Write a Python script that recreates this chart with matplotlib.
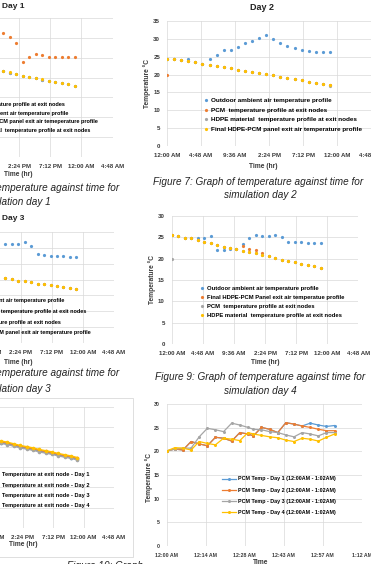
import matplotlib
matplotlib.use("Agg")
import matplotlib.pyplot as plt
from matplotlib.patches import Rectangle

# page scrap with six Excel charts, sized in pixels
W, H = 371, 564

plt.rcParams['font.family'] = ['Liberation Sans Narrow', 'Liberation Sans', 'DejaVu Sans']

BLUE, ORANGE, GRAY, YELLOW = '#5B9BD5', '#ED7D31', '#A5A5A5', '#FFC000'

hour_ticks = [0, 4.8, 9.6, 14.4, 19.2, 24.0, 28.8]
hour_labels = ['12:00 AM', '4:48 AM', '9:36 AM', '2:24 PM', '7:12 PM', '12:00 AM', '4:48 AM']
all_hours = list(range(24))
pm_hours = list(range(12, 24))

# Day 1 (only the afternoon half is on the page)
d1_outdoor = [31.2, 30.1, 28.8, 24.0, 25.1, 25.9, 25.6, 25.2, 25.2, 25.2, 25.2, 25.2]
d1_hdpe = [21.7, 21.3, 20.8, 20.5, 20.2, 19.8, 19.6, 19.2, 18.9, 18.7, 18.3, 18.0]
d1_final = [21.6, 21.2, 20.8, 20.4, 20.1, 19.8, 19.5, 19.2, 18.9, 18.6, 18.3, 18.0]
d1_pcm = [21.6, 21.2, 20.8, 20.4, 20.1, 19.8, 19.5, 19.2, 18.9, 18.6, 18.3, 18.0]

# Day 2
d2_outdoor = [24.3, 24.3, 24.1, 24.5, 23.4, 23.1, 24.5, 25.5, 26.9, 26.9, 27.8, 28.9,
              29.5, 30.2, 31.0, 30.1, 28.9, 28.0, 27.4, 26.9, 26.7, 26.4, 26.4, 26.4]
d2_final = [24.3, 24.3, 24.1, 23.8, 23.4, 23.1, 22.7, 22.4, 22.0, 21.8, 21.4, 21.1,
            20.7, 20.4, 20.1, 19.8, 19.4, 19.0, 18.7, 18.4, 18.0, 17.7, 17.5, 17.2]
d2_hdpe = [24.3, 24.3, 24.1, 23.8, 23.4, 23.1, 22.7, 22.4, 22.0, 21.8, 21.4, 21.1,
           20.7, 20.4, 20.1, 19.8, 19.4, 19.0, 18.7, 18.4, 18.0, 17.7, 17.5, 16.9]
d2_pcm = [20.0, 24.3, 24.1, 23.8, 23.4, 23.1, 22.7, 22.4, 22.0, 21.8, 21.4, 21.1,
          20.7, 20.4, 20.1, 19.8, 19.4, 19.0, 18.7, 18.4, 18.0, 17.7, 17.5, 17.2]

# Day 3 (afternoon half)
d3_outdoor = [31.1, 31.3, 31.2, 31.7, 30.7, 28.2, 27.6, 27.5, 27.3, 27.3, 27.2, 27.2]
d3_final = [20.4, 20.1, 19.7, 19.5, 19.1, 18.7, 18.5, 18.2, 17.9, 17.6, 17.3, 17.0]
d3_hdpe = [20.4, 20.1, 19.7, 19.5, 19.1, 18.7, 18.5, 18.2, 17.9, 17.6, 17.3, 17.0]
d3_pcm = [20.4, 20.1, 19.7, 19.5, 19.1, 18.7, 18.5, 18.2, 17.9, 17.6, 17.3, 17.0]

# Day 4
d4_outdoor = [25.5, 25.2, 24.9, 24.8, 24.8, 24.8, 25.2, 22.0, 22.0, 22.3, 22.3, 23.4,
              24.9, 25.5, 25.2, 25.2, 25.5, 25.0, 24.0, 24.0, 23.8, 23.6, 23.6, 23.6]
d4_hdpe = [25.5, 25.2, 24.9, 24.8, 24.4, 24.0, 23.6, 23.2, 22.8, 22.5, 22.2, 21.9,
           21.6, 21.3, 20.9, 20.6, 20.2, 19.8, 19.5, 19.2, 18.8, 18.5, 18.2, 17.9]
d4_final = [25.5, 25.2, 24.9, 24.8, 24.4, 24.0, 23.6, 23.2, 22.8, 22.5, 22.2, 23.0,
            22.3, 22.0, 21.3, 20.6, 20.2, 19.8, 19.5, 19.2, 18.8, 18.5, 18.2, 17.9]
d4_pcm = [20.0, 25.2, 24.9, 24.8, 24.4, 24.0, 23.6, 23.2, 22.8, 22.5, 22.2, 21.9,
          21.6, 21.3, 20.9, 20.6, 20.2, 19.8, 19.5, 19.2, 18.8, 18.5, 18.2, 17.9]

# exit node temperature, days 1-4 (afternoon half)
exit_hours = list(range(11, 24))
exit_day1 = [21.1, 20.8, 20.4, 20.0, 19.7, 19.4, 19.0, 18.7, 18.4, 18.0, 17.7, 17.4, 17.0]
exit_day2 = [21.3, 21.0, 20.6, 20.2, 19.9, 19.6, 19.2, 18.9, 18.6, 18.2, 17.9, 17.6, 17.2]
exit_day3 = [20.9, 20.6, 20.2, 19.8, 19.5, 19.2, 18.8, 18.5, 18.2, 17.8, 17.5, 17.2, 16.8]
exit_day4 = [21.5, 21.2, 20.8, 20.4, 20.1, 19.8, 19.4, 19.1, 18.8, 18.4, 18.1, 17.8, 17.4]

# PCM temperature, first hour of each day
pcm_minutes = [0, 3, 6, 9, 12, 15, 18, 21, 24, 27, 30, 32, 35, 38, 41, 44, 47, 50, 53, 56, 59, 62]
pcm_day1 = [20.1, 20.5, 20.3, 22.1, 21.6, 21.2, 23.0, 22.8, 22.2, 24.0, 23.7, 23.3,
            25.1, 24.7, 24.0, 26.1, 25.8, 25.4, 26.0, 25.6, 25.3, 25.5]
pcm_day2 = [20.1, 20.5, 20.3, 22.1, 21.6, 21.2, 23.0, 22.8, 22.2, 24.0, 23.7, 23.3,
            25.1, 24.7, 24.0, 26.1, 25.8, 25.4, 25.1, 24.7, 24.4, 24.4]
pcm_day3 = [20.1, 20.5, 20.7, 20.7, 23.1, 24.9, 24.6, 24.2, 26.0, 25.6, 25.1, 24.7,
            24.6, 24.2, 24.0, 23.5, 23.1, 24.0, 23.7, 23.3, 24.0, 24.0]
pcm_day4 = [20.1, 20.8, 20.7, 20.3, 22.1, 21.7, 21.4, 22.8, 22.6, 22.3, 24.0, 23.7,
            23.4, 23.1, 22.9, 22.4, 22.1, 22.8, 22.6, 22.2, 23.0, 23.7]
pcm_ticks = [0, 14.4, 28.8, 43.2, 57.6, 72]
pcm_labels = ['12:00 AM', '12:14 AM', '12:28 AM', '12:43 AM', '12:57 AM', '1:12 AM']

fig = plt.figure(figsize=(W / 100, H / 100), dpi=100)
fig.patch.set_facecolor('white')


def place(l, t, r, b):
    return fig.add_axes([l / W, 1 - b / H, (r - l) / W, (b - t) / H])


def txt(x, y, s, **kw):
    fig.text(x / W, 1 - y / H, s, **kw)


def style(ax, xlim, xticks, xlabels, ymax, fs, pad=5):
    ax.set_xlim(*xlim)
    ax.set_ylim(0, ymax)
    ax.set_xticks(xticks)
    ax.set_xticklabels(xlabels)
    ax.set_yticks(range(0, ymax + 1, 5))
    for s in ax.spines.values():
        s.set_visible(False)
    ax.grid(True, color='#D9D9D9', lw=0.5)
    ax.set_axisbelow(True)
    ax.tick_params(length=0, labelsize=fs, labelcolor='#3A3A3A', pad=pad)
    for t in ax.get_xticklabels() + ax.get_yticklabels():
        t.set_fontweight('bold')


def dots(ax, x, y, c):
    return ax.plot(x, y, ls='none', marker='o', ms=2.3, mew=0, color=c)[0]


def legend_at(ax, handles, labels, x_text, y_top, fs, spacing, hl=0.8, htp=0.4):
    fs_px = fs * 100 / 72
    x0 = x_text - (hl + htp) * fs_px
    ax.legend(handles, labels, loc='upper left', bbox_to_anchor=(x0 / W, 1 - y_top / H),
              bbox_transform=fig.transFigure, frameon=False, prop={'size': fs, 'weight': 'bold'},
              handlelength=hl, handletextpad=htp, labelspacing=spacing, borderpad=0,
              borderaxespad=0, numpoints=1)


cap_kw = dict(ha='center', va='center', fontsize=7.2, style='italic', color='#222222')
lab_kw = dict(ha='center', va='center', fontsize=4.8, fontweight='bold', color='#3A3A3A')
TICK_FS = 4.4

# ---- Day 1 ----
ax1 = place(-74.6, 18, 112.7, 157)
style(ax1, (0, 28.8), hour_ticks, hour_labels, 35, TICK_FS)
h = [dots(ax1, pm_hours, d1_pcm, BLUE), dots(ax1, pm_hours, d1_outdoor, ORANGE),
     dots(ax1, pm_hours, d1_final, GRAY), dots(ax1, pm_hours, d1_hdpe, YELLOW)]
legend_at(ax1, h, ['PCM  temperature profile at exit nodes', 'Outdoor ambient air temperature profile',
                   'Final HDPE-PCM panel exit air temeperature profile',
                   'HDPE material  temperature profile at exit nodes'], -36, 101.8, 4.0, 0.67)
txt(13, 6, 'Day 1', ha='center', va='center', fontsize=6, fontweight='bold', color='#222222')
txt(18, 175, 'Time (hr)', **lab_kw)
txt(14.5, 188, 'Figure 6: Graph of temperature against time for', **cap_kw)
txt(14.5, 202, 'simulation day 1', **cap_kw)

# ---- Day 2 ----
ax2 = place(167, 21, 371, 146)
style(ax2, (0, 28.8), hour_ticks, hour_labels, 35, TICK_FS)
h = [dots(ax2, all_hours, d2_outdoor, BLUE), dots(ax2, all_hours, d2_pcm, ORANGE),
     dots(ax2, all_hours, d2_hdpe, GRAY), dots(ax2, all_hours, d2_final, YELLOW)]
legend_at(ax2, h, ['Outdoor ambient air temperature profile', 'PCM  temperature profile at exit nodes',
                   'HDPE material  temperature profile at exit nodes',
                   'Final HDPE-PCM panel exit air temperature profile'], 210.7, 98, 4.6, 0.62)
txt(262, 8, 'Day 2', ha='center', va='center', fontsize=6.5, fontweight='bold', color='#222222')
txt(147, 83, 'Temperature °C', rotation=90, **lab_kw)
txt(263, 166, 'Time (hr)', **lab_kw)
txt(258, 182, 'Figure 7: Graph of temperature against time for', **cap_kw)
txt(260, 195, 'simulation day 2', **cap_kw)

# ---- Day 3 ----
ax3 = place(-72.6, 232, 114, 343)
style(ax3, (0, 28.8), hour_ticks, hour_labels, 35, TICK_FS)
h = [dots(ax3, pm_hours, d3_outdoor, BLUE), dots(ax3, pm_hours, d3_hdpe, ORANGE),
     dots(ax3, pm_hours, d3_pcm, GRAY), dots(ax3, pm_hours, d3_final, YELLOW)]
legend_at(ax3, h, ['Outdoor ambient air temperature profile', 'HDPE material  temperature profile at exit nodes',
                   'PCM  temperature profile at exit nodes',
                   'Final HDPE-PCM panel exit air temperature profile'], -40, 298.3, 4.0, 1.03)
txt(13, 218, 'Day 3', ha='center', va='center', fontsize=6, fontweight='bold', color='#222222')
txt(18, 362, 'Time (hr)', **lab_kw)
txt(14.5, 373, 'Figure 8: Graph of temperature against time for', **cap_kw)
txt(14.5, 389, 'simulation day 3', **cap_kw)

# ---- Day 4 ----
ax4 = place(171.7, 216, 358.3, 344)
style(ax4, (0, 28.8), hour_ticks, hour_labels, 30, TICK_FS)
h = [dots(ax4, all_hours, d4_outdoor, BLUE), dots(ax4, all_hours, d4_final, ORANGE),
     dots(ax4, all_hours, d4_pcm, GRAY), dots(ax4, all_hours, d4_hdpe, YELLOW)]
legend_at(ax4, h, ['Outdoor ambient air temperature profile', 'Final HDPE-PCM Panel exit air temperatue profile',
                   'PCM  temperature profile at exit nodes',
                   'HDPE material  temperature profile at exit nodes'], 206.7, 286.2, 4.2, 0.65)
txt(152, 280, 'Temperature °C', rotation=90, **lab_kw)
txt(265, 363, 'Time (hr)', **lab_kw)
txt(260, 377, 'Figure 9: Graph of temperature against time for', **cap_kw)
txt(260, 391, 'simulation day 4', **cap_kw)

# ---- exit node temperature, days 1-4 ----
fig.patches.append(Rectangle((-10 / W, 1 - 557 / H), 143 / W, 159 / H, transform=fig.transFigure,
                             fill=False, ec='#D9D9D9', lw=0.6))
ax5 = place(-68.6, 406.7, 114, 527.7)
style(ax5, (0, 28.8), hour_ticks, hour_labels, 30, TICK_FS)
h = []
for vals, c in [(exit_day1, BLUE), (exit_day2, ORANGE), (exit_day3, GRAY), (exit_day4, YELLOW)]:
    h.append(ax5.plot(exit_hours, vals, color=c, lw=1.0, marker='o', ms=2.6, mew=0)[0])
legend_at(ax5, h, ['Temperature at exit node - Day 1', 'Temperature at exit node - Day 2',
                   'Temperature at exit node - Day 3', 'Temperature at exit node - Day 4'],
          1.7, 472.3, 4.1, 0.93, hl=2.5)
txt(23, 545, 'Time (hr)', **lab_kw)
txt(67, 561, 'Figure 10: Graph', ha='left', va='top', fontsize=7.2, style='italic', color='#222222')

# ---- PCM temperature, first hour ----
ax6 = place(166.7, 404.3, 361.7, 545.7)
style(ax6, (0, 72), pcm_ticks, pcm_labels, 30, 3.8)
h = []
for vals, c in [(pcm_day1, BLUE), (pcm_day2, ORANGE), (pcm_day3, GRAY), (pcm_day4, YELLOW)]:
    h.append(ax6.plot(pcm_minutes, vals, color=c, lw=0.9, marker='o', ms=2.2, mew=0)[0])
legend_at(ax6, h, ['PCM Temp - Day 1 (12:00AM - 1:02AM)', 'PCM Temp - Day 2 (12:00AM - 1:02AM)',
                   'PCM Temp - Day 3 (12:00AM - 1:02AM)', 'PCM Temp - Day 4 (12:00AM - 1:02AM)'],
          238, 476.4, 3.9, 1.13, hl=2.7, htp=0.3)
txt(149, 477, 'Temperature °C', rotation=90, **lab_kw)
txt(261, 562, 'Time', **lab_kw)

fig.savefig('out.png', dpi=100)
